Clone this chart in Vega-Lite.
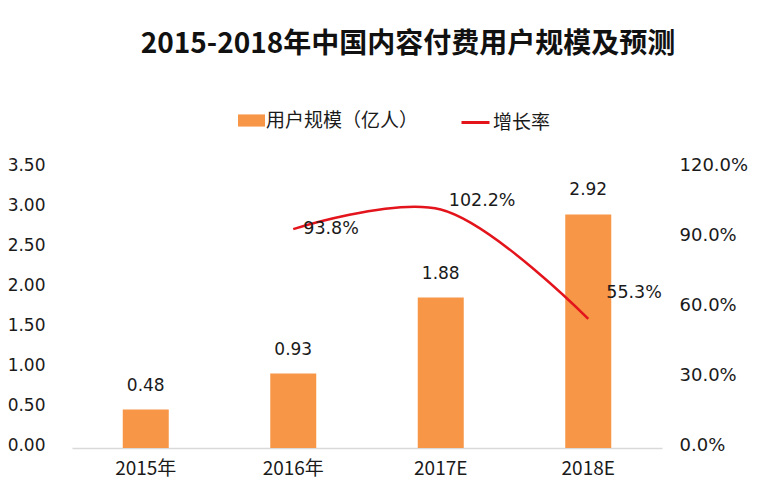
{
  "$schema": "https://vega.github.io/schema/vega-lite/v6.json",
  "autosize": "none",
  "width": 590,
  "height": 280,
  "padding": {"left": 72, "top": 168, "right": 109, "bottom": 56},
  "background": "white",
  "config": {
    "view": {"stroke": null},
    "axis": {"grid": false, "ticks": false, "labelColor": "#1a1a1a", "titleColor": "#1a1a1a", "labelOverlap": false}
  },
  "title": {
    "text": "2015-2018年中国内容付费用户规模及预测",
    "font": "Noto Sans CJK SC",
    "fontSize": 28,
    "fontWeight": "bold",
    "color": "#111111",
    "anchor": "middle",
    "frame": "group",
    "dx": 41,
    "offset": 48
  },
  "data": {
    "values": [
      {"year": "2015年", "users": 0.48, "rate": null, "rateLabel": ""},
      {"year": "2016年", "users": 0.93, "rate": 0.938, "rateLabel": "93.8%"},
      {"year": "2017E", "users": 1.88, "rate": 1.022, "rateLabel": "102.2%"},
      {"year": "2018E", "users": 2.92, "rate": 0.553, "rateLabel": "55.3%"}
    ]
  },
  "encoding": {
    "x": {
      "field": "year",
      "type": "ordinal",
      "sort": null,
      "scale": {"paddingInner": 0, "paddingOuter": 0},
      "axis": {
        "title": null,
        "labelAngle": 0,
        "labelFont": "Noto Sans CJK SC",
        "labelFontSize": 19,
        "labelPadding": 11,
        "domainColor": "#d9d9d9",
        "domainWidth": 1.5
      }
    }
  },
  "layer": [
    {
      "encoding": {
        "y": {
          "field": "users",
          "type": "quantitative",
          "scale": {"domain": [0, 3.5], "nice": false},
          "axis": {
            "title": null,
            "values": [0, 0.5, 1, 1.5, 2, 2.5, 3, 3.5],
            "format": ".2f",
            "domain": false,
            "labelOverlap": false,
            "labelFont": "DejaVu Sans",
            "labelFontSize": 17,
            "labelPadding": 27,
            "labelBaseline": "middle",
            "labelOffset": -3
          }
        }
      },
      "layer": [
        {
          "mark": {"type": "bar", "size": 46},
          "encoding": {
            "fill": {
              "datum": "用户规模（亿人）",
              "type": "nominal",
              "scale": {"range": ["#F79646"]},
              "legend": {
                "title": null,
                "orient": "none",
                "legendX": 166,
                "legendY": -61,
                "symbolType": "M-1,-0.45H1V0.45H-1Z",
                "symbolSize": 729,
                "symbolStrokeWidth": 0,
                "labelFont": "Noto Sans CJK SC",
                "labelFontSize": 19,
                "labelColor": "#1a1a1a",
                "labelOffset": 1
              }
            }
          }
        },
        {
          "mark": {"type": "text", "baseline": "middle", "dy": -24, "font": "DejaVu Sans", "fontSize": 17, "color": "#1a1a1a"},
          "encoding": {
            "text": {"field": "users", "type": "quantitative", "format": ".2f"}
          }
        }
      ]
    },
    {
      "transform": [{"filter": "datum.rate != null"}],
      "encoding": {
        "y": {
          "field": "rate",
          "type": "quantitative",
          "scale": {"domain": [0, 1.2], "nice": false},
          "axis": {
            "orient": "right",
            "title": null,
            "values": [0, 0.3, 0.6, 0.9, 1.2],
            "format": ".1%",
            "domain": false,
            "labelOverlap": false,
            "labelFont": "DejaVu Sans",
            "labelFontSize": 18,
            "labelPadding": 17,
            "labelBaseline": "middle",
            "labelOffset": -3
          }
        }
      },
      "layer": [
        {
          "mark": {"type": "line", "interpolate": "catmull-rom", "strokeWidth": 2.5},
          "encoding": {
            "stroke": {
              "datum": "增长率",
              "type": "nominal",
              "scale": {"range": ["#E3141B"]},
              "legend": {
                "title": null,
                "orient": "none",
                "legendX": 388,
                "legendY": -61,
                "symbolType": "stroke",
                "symbolSize": 784,
                "symbolStrokeWidth": 3,
                "labelFont": "Noto Sans CJK SC",
                "labelFontSize": 19,
                "labelColor": "#1a1a1a",
                "labelOffset": 2
              }
            }
          }
        },
        {
          "transform": [{"filter": "datum.year == '2016年'"}],
          "mark": {"type": "text", "align": "left", "baseline": "middle", "dx": 10, "dy": 0, "font": "DejaVu Sans", "fontSize": 17.5, "color": "#1a1a1a"},
          "encoding": {"text": {"field": "rateLabel"}}
        },
        {
          "transform": [{"filter": "datum.year == '2017E'"}],
          "mark": {"type": "text", "align": "left", "baseline": "middle", "dx": 8, "dy": -9, "font": "DejaVu Sans", "fontSize": 17.5, "color": "#1a1a1a"},
          "encoding": {"text": {"field": "rateLabel"}}
        },
        {
          "transform": [{"filter": "datum.year == '2018E'"}],
          "mark": {"type": "text", "align": "left", "baseline": "middle", "dx": 18, "dy": -26, "font": "DejaVu Sans", "fontSize": 17.5, "color": "#1a1a1a"},
          "encoding": {"text": {"field": "rateLabel"}}
        }
      ]
    }
  ],
  "resolve": {"scale": {"y": "independent"}}
}
